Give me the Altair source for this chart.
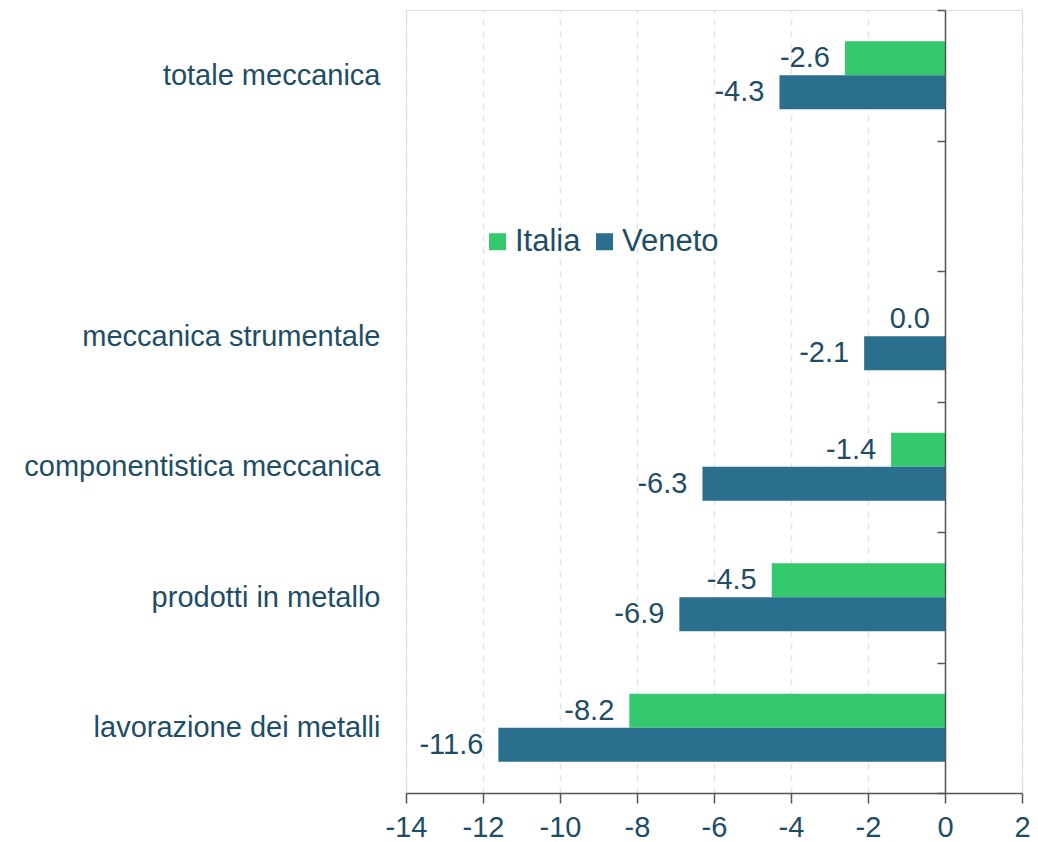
import altair as alt
import pandas as pd

# --- data ---
categories = ["totale meccanica", " ", "meccanica strumentale",
              "componentistica meccanica", "prodotti in metallo",
              "lavorazione dei metalli"]
data_categories = ["totale meccanica", "meccanica strumentale",
                   "componentistica meccanica", "prodotti in metallo",
                   "lavorazione dei metalli"]
series = ["Italia", "Veneto"]
italia = [-2.6, 0.0, -1.4, -4.5, -8.2]
veneto = [-4.3, -2.1, -6.3, -6.9, -11.6]
x_ticks = [-14, -12, -10, -8, -6, -4, -2, 0, 2]
colors = ["#35c96e", "#2b6f8f"]

rows = []
for c, vi, vv in zip(data_categories, italia, veneto):
    rows.append({"cat": c, "serie": "Italia", "val": vi, "lab": f"{vi:.1f}"})
    rows.append({"cat": c, "serie": "Veneto", "val": vv, "lab": f"{vv:.1f}"})
df = pd.DataFrame(rows)

TXT = "#1e4d66"
FONT = "Liberation Sans"
FS = 29

y_enc = alt.Y("cat:N", sort=categories,
              scale=alt.Scale(domain=categories, paddingInner=0, paddingOuter=0),
              axis=alt.Axis(orient="left", offset=-539, tickBand="extent",
                            tickSize=8, tickWidth=1.5, tickColor="#555555",
                            domainColor="#555555", domainWidth=1.5,
                            labelPadding=557, labelFontSize=FS, labelColor=TXT,
                            labelFont=FONT, labelLimit=0, title=None, grid=False,
                            zindex=1))
yoff = alt.YOffset("serie:N", scale=alt.Scale(domain=series, paddingInner=0, paddingOuter=0.92))
x_enc = alt.X("val:Q",
              scale=alt.Scale(domain=[-14, 2], nice=False, zero=False),
              axis=alt.Axis(values=x_ticks, title=None, grid=True,
                            gridDash=[6, 6], gridColor="#e4e4e4", gridWidth=1.5,
                            domainColor="#555555", domainWidth=1.5,
                            tickColor="#555555", tickWidth=1.5, tickSize=10,
                            labelPadding=10, labelFontSize=FS, labelColor=TXT,
                            labelFlush=False,
                            labelFont=FONT, labelExpr="toString(datum.value)"))

bars = alt.Chart(df).mark_bar().encode(
    y=y_enc,
    yOffset=yoff,
    x=x_enc,
    x2=alt.datum(0),
    color=alt.Color("serie:N", scale=alt.Scale(domain=series, range=colors),
                    legend=alt.Legend(orient="none", legendX=76, legendY=216,
                                      padding=0,
                                      direction="horizontal", title=None,
                                      symbolType="square", symbolSize=289,
                                      symbolStrokeWidth=0, labelFontSize=31,
                                      labelColor=TXT, labelFont=FONT,
                                      labelOffset=2, columnPadding=8)),
)

labels = alt.Chart(df).mark_text(align="right", baseline="middle", dx=-15,
                                 fontSize=FS, font=FONT, color=TXT).encode(
    y=alt.Y("cat:N", sort=categories),
    yOffset=yoff,
    x=alt.X("val:Q"),
    text="lab:N",
)

chart = (bars + labels).properties(
    width=616, height=783,
    autosize=alt.AutoSizeParams(type="none"),
    padding={"left": 398, "top": 2, "right": 8, "bottom": 48},
).configure_view(stroke=None).configure(font=FONT)

chart.save("out.html", embed_options={"renderer": "svg", "actions": False})
